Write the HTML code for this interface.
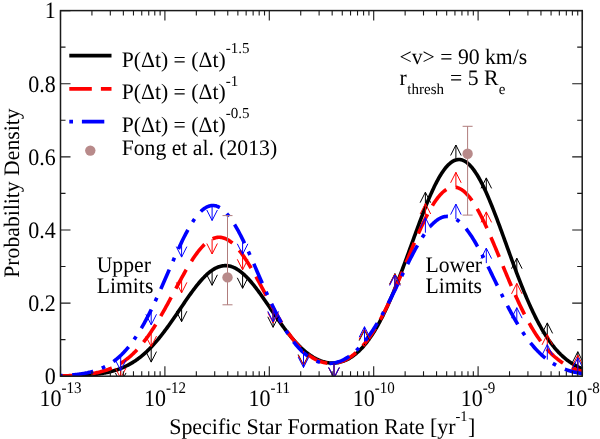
<!DOCTYPE html><html><head><meta charset="utf-8"><style>html,body{margin:0;padding:0;background:#fff;overflow:hidden}svg{display:block;will-change:transform}</style></head><body>
<svg width="600" height="439" viewBox="0 0 600 439" font-family="'Liberation Serif', serif" style="text-rendering:geometricPrecision">
<defs><clipPath id="c"><rect x="60.5" y="10.599999999999966" width="521.7" height="365.6"/></clipPath></defs>
<g clip-path="url(#c)" fill="none" stroke-linejoin="round">
<polyline points="60.50,376.05 61.37,376.04 62.24,376.03 63.11,376.01 63.99,376.00 64.86,375.99 65.73,375.97 66.60,375.96 67.47,375.94 68.34,375.92 69.21,375.90 70.09,375.88 70.96,375.86 71.83,375.84 72.70,375.81 73.57,375.79 74.44,375.76 75.31,375.73 76.19,375.70 77.06,375.67 77.93,375.63 78.80,375.60 79.67,375.56 80.54,375.52 81.41,375.47 82.29,375.43 83.16,375.38 84.03,375.33 84.90,375.28 85.77,375.22 86.64,375.16 87.52,375.10 88.39,375.03 89.26,374.96 90.13,374.89 91.00,374.81 91.87,374.73 92.74,374.65 93.62,374.56 94.49,374.46 95.36,374.37 96.23,374.26 97.10,374.15 97.97,374.04 98.84,373.92 99.72,373.80 100.59,373.67 101.46,373.53 102.33,373.39 103.20,373.24 104.07,373.08 104.94,372.92 105.82,372.75 106.69,372.57 107.56,372.38 108.43,372.19 109.30,371.99 110.17,371.78 111.04,371.56 111.92,371.33 112.79,371.09 113.66,370.84 114.53,370.58 115.40,370.31 116.27,370.04 117.14,369.75 118.02,369.44 118.89,369.13 119.76,368.81 120.63,368.47 121.50,368.12 122.37,367.76 123.24,367.39 124.12,367.00 124.99,366.60 125.86,366.19 126.73,365.76 127.60,365.32 128.47,364.86 129.34,364.39 130.22,363.90 131.09,363.40 131.96,362.88 132.83,362.35 133.70,361.80 134.57,361.23 135.44,360.65 136.32,360.05 137.19,359.44 138.06,358.80 138.93,358.15 139.80,357.48 140.67,356.80 141.55,356.09 142.42,355.37 143.29,354.63 144.16,353.88 145.03,353.10 145.90,352.31 146.77,351.50 147.65,350.67 148.52,349.82 149.39,348.95 150.26,348.07 151.13,347.17 152.00,346.25 152.87,345.31 153.75,344.35 154.62,343.38 155.49,342.39 156.36,341.38 157.23,340.36 158.10,339.32 158.97,338.26 159.85,337.19 160.72,336.10 161.59,335.00 162.46,333.88 163.33,332.75 164.20,331.60 165.07,330.44 165.95,329.27 166.82,328.08 167.69,326.89 168.56,325.68 169.43,324.46 170.30,323.23 171.17,322.00 172.05,320.75 172.92,319.50 173.79,318.24 174.66,316.97 175.53,315.70 176.40,314.42 177.27,313.14 178.15,311.86 179.02,310.57 179.89,309.28 180.76,308.00 181.63,306.71 182.50,305.43 183.37,304.15 184.25,302.87 185.12,301.60 185.99,300.33 186.86,299.07 187.73,297.82 188.60,296.58 189.47,295.34 190.35,294.12 191.22,292.91 192.09,291.72 192.96,290.54 193.83,289.37 194.70,288.22 195.58,287.09 196.45,285.97 197.32,284.88 198.19,283.81 199.06,282.76 199.93,281.73 200.80,280.72 201.68,279.74 202.55,278.79 203.42,277.86 204.29,276.96 205.16,276.09 206.03,275.25 206.90,274.44 207.78,273.66 208.65,272.91 209.52,272.20 210.39,271.52 211.26,270.87 212.13,270.26 213.00,269.68 213.88,269.14 214.75,268.64 215.62,268.18 216.49,267.75 217.36,267.36 218.23,267.01 219.10,266.70 219.98,266.43 220.85,266.20 221.72,266.00 222.59,265.85 223.46,265.74 224.33,265.67 225.20,265.64 226.08,265.65 226.95,265.70 227.82,265.80 228.69,265.93 229.56,266.10 230.43,266.32 231.30,266.57 232.18,266.86 233.05,267.19 233.92,267.57 234.79,267.98 235.66,268.42 236.53,268.91 237.40,269.43 238.28,269.99 239.15,270.59 240.02,271.22 240.89,271.88 241.76,272.58 242.63,273.31 243.51,274.08 244.38,274.87 245.25,275.70 246.12,276.56 246.99,277.44 247.86,278.36 248.73,279.30 249.61,280.26 250.48,281.26 251.35,282.27 252.22,283.31 253.09,284.37 253.96,285.46 254.83,286.56 255.71,287.68 256.58,288.82 257.45,289.98 258.32,291.15 259.19,292.34 260.06,293.54 260.93,294.75 261.81,295.98 262.68,297.21 263.55,298.46 264.42,299.71 265.29,300.97 266.16,302.24 267.03,303.51 267.91,304.78 268.78,306.06 269.65,307.34 270.52,308.62 271.39,309.90 272.26,311.18 273.13,312.46 274.01,313.73 274.88,315.00 275.75,316.27 276.62,317.53 277.49,318.78 278.36,320.03 279.23,321.26 280.11,322.49 280.98,323.71 281.85,324.92 282.72,326.12 283.59,327.31 284.46,328.48 285.33,329.64 286.21,330.79 287.08,331.92 287.95,333.04 288.82,334.14 289.69,335.22 290.56,336.29 291.43,337.35 292.31,338.38 293.18,339.40 294.05,340.40 294.92,341.38 295.79,342.34 296.66,343.28 297.54,344.20 298.41,345.10 299.28,345.99 300.15,346.85 301.02,347.69 301.89,348.51 302.76,349.31 303.64,350.09 304.51,350.84 305.38,351.58 306.25,352.29 307.12,352.98 307.99,353.65 308.86,354.29 309.74,354.92 310.61,355.52 311.48,356.09 312.35,356.65 313.22,357.18 314.09,357.69 314.96,358.18 315.84,358.65 316.71,359.09 317.58,359.51 318.45,359.90 319.32,360.28 320.19,360.63 321.06,360.95 321.94,361.26 322.81,361.54 323.68,361.79 324.55,362.02 325.42,362.23 326.29,362.42 327.16,362.58 328.04,362.72 328.91,362.84 329.78,362.93 330.65,362.99 331.52,363.04 332.39,363.05 333.26,363.05 334.14,363.02 335.01,362.96 335.88,362.88 336.75,362.78 337.62,362.65 338.49,362.49 339.36,362.31 340.24,362.11 341.11,361.87 341.98,361.62 342.85,361.33 343.72,361.02 344.59,360.68 345.46,360.32 346.34,359.93 347.21,359.51 348.08,359.06 348.95,358.58 349.82,358.08 350.69,357.55 351.57,356.99 352.44,356.40 353.31,355.78 354.18,355.13 355.05,354.45 355.92,353.74 356.79,353.00 357.67,352.23 358.54,351.43 359.41,350.60 360.28,349.73 361.15,348.84 362.02,347.91 362.89,346.95 363.77,345.96 364.64,344.93 365.51,343.87 366.38,342.78 367.25,341.65 368.12,340.49 368.99,339.30 369.87,338.07 370.74,336.81 371.61,335.52 372.48,334.19 373.35,332.83 374.22,331.43 375.09,330.00 375.97,328.53 376.84,327.03 377.71,325.50 378.58,323.93 379.45,322.32 380.32,320.69 381.19,319.02 382.07,317.32 382.94,315.58 383.81,313.81 384.68,312.01 385.55,310.18 386.42,308.31 387.29,306.42 388.17,304.49 389.04,302.53 389.91,300.55 390.78,298.53 391.65,296.49 392.52,294.42 393.39,292.32 394.27,290.20 395.14,288.05 396.01,285.88 396.88,283.68 397.75,281.47 398.62,279.23 399.49,276.97 400.37,274.69 401.24,272.39 402.11,270.08 402.98,267.75 403.85,265.40 404.72,263.05 405.60,260.68 406.47,258.30 407.34,255.91 408.21,253.52 409.08,251.12 409.95,248.71 410.82,246.31 411.70,243.90 412.57,241.49 413.44,239.08 414.31,236.68 415.18,234.28 416.05,231.89 416.92,229.51 417.80,227.14 418.67,224.78 419.54,222.44 420.41,220.11 421.28,217.80 422.15,215.52 423.02,213.25 423.90,211.00 424.77,208.79 425.64,206.59 426.51,204.43 427.38,202.30 428.25,200.20 429.12,198.14 430.00,196.11 430.87,194.12 431.74,192.17 432.61,190.26 433.48,188.40 434.35,186.58 435.22,184.81 436.10,183.08 436.97,181.41 437.84,179.79 438.71,178.22 439.58,176.70 440.45,175.24 441.32,173.84 442.20,172.50 443.07,171.22 443.94,170.00 444.81,168.84 445.68,167.74 446.55,166.71 447.42,165.75 448.30,164.85 449.17,164.02 450.04,163.26 450.91,162.57 451.78,161.94 452.65,161.39 453.53,160.91 454.40,160.50 455.27,160.16 456.14,159.90 457.01,159.71 457.88,159.59 458.75,159.54 459.63,159.56 460.50,159.66 461.37,159.84 462.24,160.08 463.11,160.40 463.98,160.78 464.85,161.24 465.73,161.78 466.60,162.38 467.47,163.05 468.34,163.79 469.21,164.60 470.08,165.48 470.95,166.43 471.83,167.44 472.70,168.51 473.57,169.65 474.44,170.86 475.31,172.12 476.18,173.45 477.05,174.83 477.93,176.27 478.80,177.77 479.67,179.33 480.54,180.93 481.41,182.59 482.28,184.30 483.15,186.06 484.03,187.87 484.90,189.72 485.77,191.61 486.64,193.55 487.51,195.53 488.38,197.55 489.25,199.60 490.13,201.69 491.00,203.81 491.87,205.97 492.74,208.15 493.61,210.36 494.48,212.60 495.35,214.86 496.23,217.14 497.10,219.45 497.97,221.77 498.84,224.11 499.71,226.47 500.58,228.83 501.45,231.21 502.33,233.60 503.20,236.00 504.07,238.40 504.94,240.81 505.81,243.22 506.68,245.63 507.56,248.04 508.43,250.45 509.30,252.85 510.17,255.25 511.04,257.64 511.91,260.03 512.78,262.40 513.66,264.77 514.53,267.12 515.40,269.45 516.27,271.78 517.14,274.08 518.01,276.37 518.88,278.64 519.76,280.89 520.63,283.13 521.50,285.33 522.37,287.52 523.24,289.68 524.11,291.82 524.98,293.93 525.86,296.02 526.73,298.08 527.60,300.12 528.47,302.12 529.34,304.10 530.21,306.05 531.08,307.96 531.96,309.85 532.83,311.71 533.70,313.54 534.57,315.33 535.44,317.10 536.31,318.83 537.18,320.53 538.06,322.19 538.93,323.83 539.80,325.43 540.67,327.00 541.54,328.54 542.41,330.05 543.28,331.52 544.16,332.96 545.03,334.37 545.90,335.74 546.77,337.09 547.64,338.40 548.51,339.68 549.38,340.93 550.26,342.15 551.13,343.33 552.00,344.49 552.87,345.61 553.74,346.71 554.61,347.78 555.48,348.81 556.36,349.82 557.23,350.80 558.10,351.75 558.97,352.67 559.84,353.57 560.71,354.44 561.59,355.28 562.46,356.10 563.33,356.89 564.20,357.66 565.07,358.40 565.94,359.12 566.81,359.81 567.69,360.48 568.56,361.13 569.43,361.76 570.30,362.37 571.17,362.95 572.04,363.52 572.91,364.06 573.79,364.58 574.66,365.09 575.53,365.58 576.40,366.05 577.27,366.50 578.14,366.94 579.01,367.35 579.89,367.76 580.76,368.14 581.63,368.52 582.50,368.87" stroke="#000" stroke-width="3.6"/>
<polyline points="60.50,375.91 61.37,375.89 62.24,375.87 63.11,375.85 63.99,375.83 64.86,375.80 65.73,375.77 66.60,375.75 67.47,375.71 68.34,375.68 69.21,375.65 70.09,375.61 70.96,375.57 71.83,375.53 72.70,375.49 73.57,375.44 74.44,375.39 75.31,375.34 76.19,375.29 77.06,375.23 77.93,375.17 78.80,375.10 79.67,375.04 80.54,374.97 81.41,374.89 82.29,374.81 83.16,374.73 84.03,374.64 84.90,374.55 85.77,374.45 86.64,374.35 87.52,374.24 88.39,374.13 89.26,374.01 90.13,373.88 91.00,373.75 91.87,373.61 92.74,373.47 93.62,373.32 94.49,373.16 95.36,372.99 96.23,372.82 97.10,372.63 97.97,372.44 98.84,372.24 99.72,372.04 100.59,371.82 101.46,371.59 102.33,371.35 103.20,371.10 104.07,370.85 104.94,370.58 105.82,370.30 106.69,370.00 107.56,369.70 108.43,369.38 109.30,369.05 110.17,368.71 111.04,368.35 111.92,367.98 112.79,367.60 113.66,367.20 114.53,366.78 115.40,366.35 116.27,365.91 117.14,365.44 118.02,364.97 118.89,364.47 119.76,363.96 120.63,363.43 121.50,362.88 122.37,362.31 123.24,361.73 124.12,361.12 124.99,360.50 125.86,359.86 126.73,359.19 127.60,358.51 128.47,357.80 129.34,357.08 130.22,356.33 131.09,355.56 131.96,354.77 132.83,353.96 133.70,353.13 134.57,352.27 135.44,351.40 136.32,350.49 137.19,349.57 138.06,348.62 138.93,347.65 139.80,346.66 140.67,345.65 141.55,344.61 142.42,343.54 143.29,342.46 144.16,341.35 145.03,340.22 145.90,339.06 146.77,337.89 147.65,336.69 148.52,335.47 149.39,334.22 150.26,332.96 151.13,331.67 152.00,330.36 152.87,329.03 153.75,327.68 154.62,326.31 155.49,324.92 156.36,323.52 157.23,322.09 158.10,320.64 158.97,319.18 159.85,317.70 160.72,316.21 161.59,314.70 162.46,313.18 163.33,311.64 164.20,310.09 165.07,308.52 165.95,306.95 166.82,305.37 167.69,303.77 168.56,302.17 169.43,300.56 170.30,298.95 171.17,297.33 172.05,295.71 172.92,294.08 173.79,292.45 174.66,290.83 175.53,289.20 176.40,287.57 177.27,285.95 178.15,284.34 179.02,282.72 179.89,281.12 180.76,279.53 181.63,277.94 182.50,276.37 183.37,274.80 184.25,273.26 185.12,271.73 185.99,270.21 186.86,268.71 187.73,267.24 188.60,265.78 189.47,264.34 190.35,262.93 191.22,261.55 192.09,260.19 192.96,258.86 193.83,257.56 194.70,256.28 195.58,255.04 196.45,253.83 197.32,252.66 198.19,251.52 199.06,250.42 199.93,249.36 200.80,248.33 201.68,247.35 202.55,246.40 203.42,245.50 204.29,244.64 205.16,243.82 206.03,243.05 206.90,242.32 207.78,241.65 208.65,241.01 209.52,240.43 210.39,239.89 211.26,239.40 212.13,238.97 213.00,238.58 213.88,238.24 214.75,237.95 215.62,237.72 216.49,237.53 217.36,237.40 218.23,237.32 219.10,237.29 219.98,237.31 220.85,237.39 221.72,237.51 222.59,237.69 223.46,237.92 224.33,238.20 225.20,238.53 226.08,238.91 226.95,239.34 227.82,239.82 228.69,240.35 229.56,240.93 230.43,241.56 231.30,242.23 232.18,242.95 233.05,243.72 233.92,244.53 234.79,245.38 235.66,246.28 236.53,247.22 237.40,248.20 238.28,249.22 239.15,250.28 240.02,251.37 240.89,252.51 241.76,253.67 242.63,254.88 243.51,256.11 244.38,257.38 245.25,258.68 246.12,260.00 246.99,261.36 247.86,262.74 248.73,264.15 249.61,265.58 250.48,267.03 251.35,268.50 252.22,270.00 253.09,271.51 253.96,273.04 254.83,274.58 255.71,276.14 256.58,277.71 257.45,279.29 258.32,280.88 259.19,282.48 260.06,284.09 260.93,285.70 261.81,287.32 262.68,288.94 263.55,290.56 264.42,292.18 265.29,293.81 266.16,295.43 267.03,297.05 267.91,298.66 268.78,300.27 269.65,301.87 270.52,303.47 271.39,305.05 272.26,306.63 273.13,308.20 274.01,309.75 274.88,311.29 275.75,312.82 276.62,314.34 277.49,315.84 278.36,317.32 279.23,318.79 280.11,320.24 280.98,321.67 281.85,323.08 282.72,324.48 283.59,325.85 284.46,327.20 285.33,328.53 286.21,329.84 287.08,331.13 287.95,332.40 288.82,333.64 289.69,334.86 290.56,336.05 291.43,337.22 292.31,338.37 293.18,339.49 294.05,340.59 294.92,341.66 295.79,342.70 296.66,343.72 297.54,344.72 298.41,345.69 299.28,346.63 300.15,347.55 301.02,348.44 301.89,349.30 302.76,350.14 303.64,350.95 304.51,351.74 305.38,352.50 306.25,353.23 307.12,353.94 307.99,354.62 308.86,355.28 309.74,355.91 310.61,356.51 311.48,357.08 312.35,357.64 313.22,358.16 314.09,358.66 314.96,359.13 315.84,359.58 316.71,360.00 317.58,360.40 318.45,360.77 319.32,361.12 320.19,361.44 321.06,361.74 321.94,362.01 322.81,362.25 323.68,362.47 324.55,362.67 325.42,362.84 326.29,362.98 327.16,363.11 328.04,363.20 328.91,363.27 329.78,363.32 330.65,363.34 331.52,363.34 332.39,363.31 333.26,363.25 334.14,363.17 335.01,363.07 335.88,362.94 336.75,362.79 337.62,362.61 338.49,362.40 339.36,362.17 340.24,361.91 341.11,361.63 341.98,361.32 342.85,360.99 343.72,360.63 344.59,360.24 345.46,359.83 346.34,359.38 347.21,358.92 348.08,358.42 348.95,357.90 349.82,357.35 350.69,356.77 351.57,356.17 352.44,355.53 353.31,354.87 354.18,354.18 355.05,353.46 355.92,352.72 356.79,351.94 357.67,351.13 358.54,350.30 359.41,349.43 360.28,348.54 361.15,347.62 362.02,346.66 362.89,345.68 363.77,344.66 364.64,343.62 365.51,342.54 366.38,341.44 367.25,340.30 368.12,339.13 368.99,337.93 369.87,336.71 370.74,335.45 371.61,334.16 372.48,332.84 373.35,331.49 374.22,330.11 375.09,328.70 375.97,327.26 376.84,325.79 377.71,324.29 378.58,322.76 379.45,321.20 380.32,319.61 381.19,318.00 382.07,316.35 382.94,314.68 383.81,312.99 384.68,311.26 385.55,309.51 386.42,307.74 387.29,305.94 388.17,304.12 389.04,302.27 389.91,300.40 390.78,298.51 391.65,296.59 392.52,294.66 393.39,292.71 394.27,290.74 395.14,288.75 396.01,286.74 396.88,284.72 397.75,282.69 398.62,280.64 399.49,278.58 400.37,276.51 401.24,274.43 402.11,272.34 402.98,270.24 403.85,268.14 404.72,266.03 405.60,263.92 406.47,261.81 407.34,259.69 408.21,257.58 409.08,255.47 409.95,253.37 410.82,251.27 411.70,249.18 412.57,247.09 413.44,245.02 414.31,242.96 415.18,240.91 416.05,238.88 416.92,236.86 417.80,234.86 418.67,232.89 419.54,230.93 420.41,229.00 421.28,227.09 422.15,225.21 423.02,223.36 423.90,221.54 424.77,219.74 425.64,217.99 426.51,216.26 427.38,214.57 428.25,212.92 429.12,211.31 430.00,209.74 430.87,208.22 431.74,206.73 432.61,205.29 433.48,203.90 434.35,202.55 435.22,201.26 436.10,200.01 436.97,198.82 437.84,197.68 438.71,196.59 439.58,195.55 440.45,194.58 441.32,193.66 442.20,192.79 443.07,191.99 443.94,191.24 444.81,190.56 445.68,189.94 446.55,189.37 447.42,188.87 448.30,188.43 449.17,188.06 450.04,187.75 450.91,187.50 451.78,187.32 452.65,187.20 453.53,187.14 454.40,187.15 455.27,187.22 456.14,187.36 457.01,187.56 457.88,187.82 458.75,188.15 459.63,188.54 460.50,189.00 461.37,189.52 462.24,190.09 463.11,190.73 463.98,191.44 464.85,192.20 465.73,193.02 466.60,193.90 467.47,194.83 468.34,195.82 469.21,196.87 470.08,197.97 470.95,199.13 471.83,200.34 472.70,201.60 473.57,202.91 474.44,204.26 475.31,205.67 476.18,207.12 477.05,208.62 477.93,210.16 478.80,211.74 479.67,213.36 480.54,215.02 481.41,216.72 482.28,218.45 483.15,220.22 484.03,222.02 484.90,223.85 485.77,225.71 486.64,227.60 487.51,229.51 488.38,231.45 489.25,233.42 490.13,235.40 491.00,237.40 491.87,239.42 492.74,241.46 493.61,243.51 494.48,245.58 495.35,247.66 496.23,249.74 497.10,251.84 497.97,253.94 498.84,256.05 499.71,258.16 500.58,260.28 501.45,262.39 502.33,264.50 503.20,266.62 504.07,268.73 504.94,270.83 505.81,272.93 506.68,275.02 507.56,277.10 508.43,279.17 509.30,281.23 510.17,283.28 511.04,285.32 511.91,287.34 512.78,289.35 513.66,291.34 514.53,293.31 515.40,295.26 516.27,297.20 517.14,299.11 518.01,301.00 518.88,302.88 519.76,304.73 520.63,306.55 521.50,308.36 522.37,310.14 523.24,311.89 524.11,313.62 524.98,315.32 525.86,317.00 526.73,318.65 527.60,320.27 528.47,321.87 529.34,323.44 530.21,324.98 531.08,326.49 531.96,327.98 532.83,329.43 533.70,330.86 534.57,332.26 535.44,333.63 536.31,334.97 537.18,336.28 538.06,337.57 538.93,338.82 539.80,340.05 540.67,341.25 541.54,342.42 542.41,343.56 543.28,344.67 544.16,345.76 545.03,346.82 545.90,347.85 546.77,348.86 547.64,349.83 548.51,350.79 549.38,351.71 550.26,352.61 551.13,353.49 552.00,354.34 552.87,355.16 553.74,355.96 554.61,356.74 555.48,357.49 556.36,358.23 557.23,358.93 558.10,359.62 558.97,360.28 559.84,360.93 560.71,361.55 561.59,362.15 562.46,362.73 563.33,363.29 564.20,363.83 565.07,364.36 565.94,364.86 566.81,365.35 567.69,365.82 568.56,366.27 569.43,366.71 570.30,367.13 571.17,367.53 572.04,367.92 572.91,368.30 573.79,368.66 574.66,369.00 575.53,369.33 576.40,369.65 577.27,369.96 578.14,370.26 579.01,370.54 579.89,370.81 580.76,371.07 581.63,371.32 582.50,371.56" stroke="#f00" stroke-width="3.6" stroke-dasharray="21.5 9.88" stroke-dashoffset="0.63"/>
<polyline points="60.50,375.66 61.37,375.63 62.24,375.59 63.11,375.55 63.99,375.50 64.86,375.46 65.73,375.41 66.60,375.36 67.47,375.30 68.34,375.24 69.21,375.18 70.09,375.12 70.96,375.05 71.83,374.98 72.70,374.90 73.57,374.82 74.44,374.73 75.31,374.64 76.19,374.55 77.06,374.45 77.93,374.34 78.80,374.23 79.67,374.11 80.54,373.99 81.41,373.86 82.29,373.72 83.16,373.58 84.03,373.43 84.90,373.27 85.77,373.10 86.64,372.93 87.52,372.75 88.39,372.55 89.26,372.35 90.13,372.14 91.00,371.92 91.87,371.69 92.74,371.45 93.62,371.20 94.49,370.93 95.36,370.66 96.23,370.37 97.10,370.07 97.97,369.75 98.84,369.43 99.72,369.09 100.59,368.73 101.46,368.36 102.33,367.97 103.20,367.57 104.07,367.15 104.94,366.72 105.82,366.27 106.69,365.80 107.56,365.31 108.43,364.81 109.30,364.28 110.17,363.74 111.04,363.17 111.92,362.59 112.79,361.98 113.66,361.36 114.53,360.71 115.40,360.04 116.27,359.35 117.14,358.63 118.02,357.89 118.89,357.13 119.76,356.34 120.63,355.52 121.50,354.69 122.37,353.82 123.24,352.93 124.12,352.02 124.99,351.08 125.86,350.11 126.73,349.11 127.60,348.09 128.47,347.04 129.34,345.96 130.22,344.85 131.09,343.71 131.96,342.55 132.83,341.36 133.70,340.14 134.57,338.89 135.44,337.61 136.32,336.30 137.19,334.97 138.06,333.60 138.93,332.21 139.80,330.79 140.67,329.34 141.55,327.86 142.42,326.35 143.29,324.82 144.16,323.26 145.03,321.67 145.90,320.06 146.77,318.42 147.65,316.76 148.52,315.07 149.39,313.35 150.26,311.61 151.13,309.85 152.00,308.07 152.87,306.27 153.75,304.44 154.62,302.60 155.49,300.73 156.36,298.85 157.23,296.95 158.10,295.04 158.97,293.11 159.85,291.16 160.72,289.21 161.59,287.24 162.46,285.26 163.33,283.27 164.20,281.28 165.07,279.28 165.95,277.27 166.82,275.26 167.69,273.25 168.56,271.24 169.43,269.23 170.30,267.22 171.17,265.22 172.05,263.22 172.92,261.23 173.79,259.25 174.66,257.28 175.53,255.33 176.40,253.38 177.27,251.45 178.15,249.54 179.02,247.65 179.89,245.78 180.76,243.94 181.63,242.11 182.50,240.32 183.37,238.55 184.25,236.81 185.12,235.10 185.99,233.43 186.86,231.79 187.73,230.18 188.60,228.62 189.47,227.09 190.35,225.61 191.22,224.16 192.09,222.77 192.96,221.41 193.83,220.11 194.70,218.85 195.58,217.64 196.45,216.49 197.32,215.38 198.19,214.33 199.06,213.33 199.93,212.39 200.80,211.51 201.68,210.68 202.55,209.91 203.42,209.21 204.29,208.56 205.16,207.97 206.03,207.45 206.90,206.98 207.78,206.58 208.65,206.25 209.52,205.97 210.39,205.76 211.26,205.62 212.13,205.54 213.00,205.52 213.88,205.57 214.75,205.68 215.62,205.86 216.49,206.10 217.36,206.40 218.23,206.77 219.10,207.20 219.98,207.69 220.85,208.25 221.72,208.86 222.59,209.54 223.46,210.28 224.33,211.07 225.20,211.93 226.08,212.84 226.95,213.81 227.82,214.83 228.69,215.91 229.56,217.03 230.43,218.22 231.30,219.45 232.18,220.73 233.05,222.06 233.92,223.43 234.79,224.85 235.66,226.31 236.53,227.82 237.40,229.36 238.28,230.95 239.15,232.57 240.02,234.22 240.89,235.91 241.76,237.64 242.63,239.39 243.51,241.17 244.38,242.98 245.25,244.81 246.12,246.67 246.99,248.55 247.86,250.45 248.73,252.36 249.61,254.30 250.48,256.24 251.35,258.21 252.22,260.18 253.09,262.16 253.96,264.15 254.83,266.15 255.71,268.15 256.58,270.16 257.45,272.17 258.32,274.17 259.19,276.18 260.06,278.18 260.93,280.18 261.81,282.18 262.68,284.16 263.55,286.14 264.42,288.11 265.29,290.06 266.16,292.01 267.03,293.94 267.91,295.85 268.78,297.75 269.65,299.63 270.52,301.50 271.39,303.34 272.26,305.17 273.13,306.97 274.01,308.75 274.88,310.51 275.75,312.25 276.62,313.96 277.49,315.65 278.36,317.31 279.23,318.94 280.11,320.55 280.98,322.13 281.85,323.69 282.72,325.21 283.59,326.71 284.46,328.18 285.33,329.61 286.21,331.02 287.08,332.40 287.95,333.75 288.82,335.07 289.69,336.35 290.56,337.61 291.43,338.83 292.31,340.03 293.18,341.19 294.05,342.32 294.92,343.42 295.79,344.49 296.66,345.53 297.54,346.54 298.41,347.52 299.28,348.46 300.15,349.38 301.02,350.26 301.89,351.12 302.76,351.94 303.64,352.73 304.51,353.50 305.38,354.23 306.25,354.93 307.12,355.61 307.99,356.25 308.86,356.87 309.74,357.46 310.61,358.02 311.48,358.55 312.35,359.05 313.22,359.52 314.09,359.97 314.96,360.39 315.84,360.78 316.71,361.14 317.58,361.48 318.45,361.79 319.32,362.07 320.19,362.33 321.06,362.56 321.94,362.76 322.81,362.94 323.68,363.09 324.55,363.22 325.42,363.32 326.29,363.40 327.16,363.45 328.04,363.47 328.91,363.47 329.78,363.44 330.65,363.39 331.52,363.32 332.39,363.22 333.26,363.09 334.14,362.94 335.01,362.76 335.88,362.56 336.75,362.33 337.62,362.08 338.49,361.80 339.36,361.50 340.24,361.17 341.11,360.82 341.98,360.44 342.85,360.04 343.72,359.61 344.59,359.16 345.46,358.68 346.34,358.17 347.21,357.64 348.08,357.08 348.95,356.50 349.82,355.89 350.69,355.25 351.57,354.59 352.44,353.90 353.31,353.19 354.18,352.45 355.05,351.68 355.92,350.88 356.79,350.06 357.67,349.21 358.54,348.34 359.41,347.44 360.28,346.51 361.15,345.55 362.02,344.57 362.89,343.56 363.77,342.53 364.64,341.46 365.51,340.37 366.38,339.26 367.25,338.11 368.12,336.95 368.99,335.75 369.87,334.53 370.74,333.28 371.61,332.01 372.48,330.71 373.35,329.39 374.22,328.04 375.09,326.67 375.97,325.28 376.84,323.86 377.71,322.42 378.58,320.95 379.45,319.46 380.32,317.95 381.19,316.42 382.07,314.87 382.94,313.30 383.81,311.71 384.68,310.10 385.55,308.48 386.42,306.83 387.29,305.17 388.17,303.49 389.04,301.80 389.91,300.10 390.78,298.38 391.65,296.65 392.52,294.91 393.39,293.16 394.27,291.39 395.14,289.63 396.01,287.85 396.88,286.07 397.75,284.28 398.62,282.49 399.49,280.70 400.37,278.90 401.24,277.11 402.11,275.32 402.98,273.53 403.85,271.74 404.72,269.96 405.60,268.19 406.47,266.42 407.34,264.67 408.21,262.92 409.08,261.19 409.95,259.47 410.82,257.76 411.70,256.07 412.57,254.40 413.44,252.74 414.31,251.11 415.18,249.50 416.05,247.91 416.92,246.35 417.80,244.82 418.67,243.31 419.54,241.83 420.41,240.38 421.28,238.96 422.15,237.57 423.02,236.22 423.90,234.90 424.77,233.62 425.64,232.38 426.51,231.18 427.38,230.01 428.25,228.89 429.12,227.81 430.00,226.77 430.87,225.78 431.74,224.84 432.61,223.94 433.48,223.08 434.35,222.28 435.22,221.52 436.10,220.82 436.97,220.16 437.84,219.55 438.71,219.00 439.58,218.50 440.45,218.05 441.32,217.66 442.20,217.31 443.07,217.03 443.94,216.79 444.81,216.61 445.68,216.49 446.55,216.42 447.42,216.41 448.30,216.45 449.17,216.54 450.04,216.69 450.91,216.90 451.78,217.15 452.65,217.47 453.53,217.83 454.40,218.25 455.27,218.73 456.14,219.25 457.01,219.83 457.88,220.46 458.75,221.14 459.63,221.87 460.50,222.65 461.37,223.47 462.24,224.35 463.11,225.27 463.98,226.24 464.85,227.25 465.73,228.31 466.60,229.41 467.47,230.55 468.34,231.73 469.21,232.95 470.08,234.21 470.95,235.51 471.83,236.84 472.70,238.21 473.57,239.61 474.44,241.05 475.31,242.51 476.18,244.01 477.05,245.53 477.93,247.08 478.80,248.65 479.67,250.25 480.54,251.87 481.41,253.52 482.28,255.18 483.15,256.86 484.03,258.56 484.90,260.27 485.77,262.00 486.64,263.74 487.51,265.49 488.38,267.26 489.25,269.03 490.13,270.81 491.00,272.59 491.87,274.38 492.74,276.17 493.61,277.97 494.48,279.77 495.35,281.56 496.23,283.36 497.10,285.15 497.97,286.93 498.84,288.72 499.71,290.49 500.58,292.26 501.45,294.02 502.33,295.77 503.20,297.52 504.07,299.25 504.94,300.96 505.81,302.67 506.68,304.36 507.56,306.03 508.43,307.70 509.30,309.34 510.17,310.97 511.04,312.58 511.91,314.17 512.78,315.74 513.66,317.29 514.53,318.82 515.40,320.33 516.27,321.82 517.14,323.29 518.01,324.74 518.88,326.16 519.76,327.57 520.63,328.94 521.50,330.30 522.37,331.63 523.24,332.94 524.11,334.22 524.98,335.48 525.86,336.72 526.73,337.93 527.60,339.12 528.47,340.28 529.34,341.42 530.21,342.53 531.08,343.62 531.96,344.68 532.83,345.72 533.70,346.74 534.57,347.73 535.44,348.70 536.31,349.64 537.18,350.57 538.06,351.46 538.93,352.34 539.80,353.19 540.67,354.02 541.54,354.82 542.41,355.60 543.28,356.37 544.16,357.11 545.03,357.83 545.90,358.52 546.77,359.20 547.64,359.86 548.51,360.49 549.38,361.11 550.26,361.71 551.13,362.29 552.00,362.85 552.87,363.39 553.74,363.92 554.61,364.42 555.48,364.91 556.36,365.39 557.23,365.84 558.10,366.28 558.97,366.71 559.84,367.12 560.71,367.52 561.59,367.90 562.46,368.26 563.33,368.62 564.20,368.96 565.07,369.29 565.94,369.60 566.81,369.90 567.69,370.19 568.56,370.47 569.43,370.74 570.30,371.00 571.17,371.25 572.04,371.48 572.91,371.71 573.79,371.93 574.66,372.14 575.53,372.34 576.40,372.53 577.27,372.71 578.14,372.89 579.01,373.05 579.89,373.21 580.76,373.37 581.63,373.51 582.50,373.65" stroke="#00f" stroke-width="3.6" stroke-dasharray="3.7 9.65 21.25 9.2" stroke-dashoffset="1.6"/>
<path d="M120.7,368.4V383.4M115.4,372.9L120.7,383.4L126.0,372.9" stroke="#000" stroke-width="1.0"/>
<path d="M151.2,347.1V362.1M145.9,351.6L151.2,362.1L156.5,351.6" stroke="#000" stroke-width="1.0"/>
<path d="M181.6,306.7V321.7M176.3,311.2L181.6,321.7L186.9,311.2" stroke="#000" stroke-width="1.0"/>
<path d="M212.1,270.3V285.3M206.8,274.8L212.1,285.3L217.4,274.8" stroke="#000" stroke-width="1.0"/>
<path d="M242.6,273.3V288.3M237.3,277.8L242.6,288.3L247.9,277.8" stroke="#000" stroke-width="1.0"/>
<path d="M273.1,312.3V327.3M267.8,316.8L273.1,327.3L278.4,316.8" stroke="#000" stroke-width="1.0"/>
<path d="M303.5,350.0V365.0M298.2,354.5L303.5,365.0L308.8,354.5" stroke="#000" stroke-width="1.0"/>
<path d="M334.0,363.0V378.0M328.7,367.5L334.0,378.0L339.3,367.5" stroke="#000" stroke-width="1.0"/>
<path d="M364.5,345.1V330.1M359.2,340.6L364.5,330.1L369.8,340.6" stroke="#000" stroke-width="1.0"/>
<path d="M394.9,288.6V273.6M389.6,284.1L394.9,273.6L400.2,284.1" stroke="#000" stroke-width="1.0"/>
<path d="M425.4,207.2V192.2M420.1,202.7L425.4,192.2L430.7,202.7" stroke="#000" stroke-width="1.0"/>
<path d="M455.9,160.0V145.0M450.6,155.5L455.9,145.0L461.2,155.5" stroke="#000" stroke-width="1.0"/>
<path d="M486.3,192.9V177.9M481.0,188.4L486.3,177.9L491.6,188.4" stroke="#000" stroke-width="1.0"/>
<path d="M516.8,273.2V258.2M511.5,268.7L516.8,258.2L522.1,268.7" stroke="#000" stroke-width="1.0"/>
<path d="M547.3,337.9V322.9M542.0,333.4L547.3,322.9L552.6,333.4" stroke="#000" stroke-width="1.0"/>
<path d="M577.8,366.7V351.7M572.5,362.2L577.8,351.7L583.0,362.2" stroke="#000" stroke-width="1.0"/>
<path d="M120.7,363.4V378.4M115.4,367.9L120.7,378.4L126.0,367.9" stroke="#f00" stroke-width="1.0"/>
<path d="M151.2,331.6V346.6M145.9,336.1L151.2,346.6L156.5,336.1" stroke="#f00" stroke-width="1.0"/>
<path d="M181.6,277.9V292.9M176.3,282.4L181.6,292.9L186.9,282.4" stroke="#f00" stroke-width="1.0"/>
<path d="M212.1,239.0V254.0M206.8,243.5L212.1,254.0L217.4,243.5" stroke="#f00" stroke-width="1.0"/>
<path d="M242.6,254.8V269.8M237.3,259.3L242.6,269.8L247.9,259.3" stroke="#f00" stroke-width="1.0"/>
<path d="M273.1,308.0V323.0M267.8,312.5L273.1,323.0L278.4,312.5" stroke="#f00" stroke-width="1.0"/>
<path d="M303.5,350.8V365.8M298.2,355.3L303.5,365.8L308.8,355.3" stroke="#f00" stroke-width="1.0"/>
<path d="M334.0,363.2V378.2M328.7,367.7L334.0,378.2L339.3,367.7" stroke="#f00" stroke-width="1.0"/>
<path d="M364.5,343.8V328.8M359.2,339.3L364.5,328.8L369.8,339.3" stroke="#f00" stroke-width="1.0"/>
<path d="M394.9,289.2V274.2M389.6,284.7L394.9,274.2L400.2,284.7" stroke="#f00" stroke-width="1.0"/>
<path d="M425.4,218.5V203.5M420.1,214.0L425.4,203.5L430.7,214.0" stroke="#f00" stroke-width="1.0"/>
<path d="M455.9,187.3V172.3M450.6,182.8L455.9,172.3L461.2,182.8" stroke="#f00" stroke-width="1.0"/>
<path d="M486.3,226.9V211.9M481.0,222.4L486.3,211.9L491.6,222.4" stroke="#f00" stroke-width="1.0"/>
<path d="M516.8,298.4V283.4M511.5,293.9L516.8,283.4L522.1,293.9" stroke="#f00" stroke-width="1.0"/>
<path d="M547.3,349.4V334.4M542.0,344.9L547.3,334.4L552.6,344.9" stroke="#f00" stroke-width="1.0"/>
<path d="M577.8,370.1V355.1M572.5,365.6L577.8,355.1L583.0,365.6" stroke="#f00" stroke-width="1.0"/>
<path d="M120.7,355.5V370.5M115.4,360.0L120.7,370.5L126.0,360.0" stroke="#00f" stroke-width="1.0"/>
<path d="M151.2,309.8V324.8M145.9,314.3L151.2,324.8L156.5,314.3" stroke="#00f" stroke-width="1.0"/>
<path d="M181.6,242.1V257.1M176.3,246.6L181.6,257.1L186.9,246.6" stroke="#00f" stroke-width="1.0"/>
<path d="M212.1,205.5V220.5M206.8,210.0L212.1,220.5L217.4,210.0" stroke="#00f" stroke-width="1.0"/>
<path d="M242.6,239.3V254.3M237.3,243.8L242.6,254.3L247.9,243.8" stroke="#00f" stroke-width="1.0"/>
<path d="M273.1,306.8V321.8M267.8,311.3L273.1,321.8L278.4,311.3" stroke="#00f" stroke-width="1.0"/>
<path d="M303.5,352.6V367.6M298.2,357.1L303.5,367.6L308.8,357.1" stroke="#00f" stroke-width="1.0"/>
<path d="M334.0,363.0V378.0M328.7,367.5L334.0,378.0L339.3,367.5" stroke="#00f" stroke-width="1.0"/>
<path d="M364.5,341.7V326.7M359.2,337.2L364.5,326.7L369.8,337.2" stroke="#00f" stroke-width="1.0"/>
<path d="M394.9,290.0V275.0M389.6,285.5L394.9,275.0L400.2,285.5" stroke="#00f" stroke-width="1.0"/>
<path d="M425.4,232.7V217.7M420.1,228.2L425.4,217.7L430.7,228.2" stroke="#00f" stroke-width="1.0"/>
<path d="M455.9,219.1V204.1M450.6,214.6L455.9,204.1L461.2,214.6" stroke="#00f" stroke-width="1.0"/>
<path d="M486.3,263.1V248.1M481.0,258.6L486.3,248.1L491.6,258.6" stroke="#00f" stroke-width="1.0"/>
<path d="M516.8,322.7V307.7M511.5,318.2L516.8,307.7L522.1,318.2" stroke="#00f" stroke-width="1.0"/>
<path d="M547.3,359.6V344.6M542.0,355.1L547.3,344.6L552.6,355.1" stroke="#00f" stroke-width="1.0"/>
<path d="M577.8,372.8V357.8M572.5,368.3L577.8,357.8L583.0,368.3" stroke="#00f" stroke-width="1.0"/>
</g>
<path d="M227.5,215.6V304.8M222.5,215.6H232.5M222.5,304.8H232.5" stroke="#b07c7c" stroke-width="1.0" fill="none"/>
<circle cx="227.5" cy="277.4" r="5.2" fill="#b88a8a"/>
<path d="M467.6,126.3V215.1M462.6,126.3H472.6M462.6,215.1H472.6" stroke="#b07c7c" stroke-width="1.0" fill="none"/>
<circle cx="467.6" cy="153.8" r="5.2" fill="#b88a8a"/>
<path d="M60.50,376.2v-10M60.50,10.599999999999966v10M91.93,376.2v-5M91.93,10.599999999999966v5M110.31,376.2v-5M110.31,10.599999999999966v5M123.36,376.2v-5M123.36,10.599999999999966v5M133.47,376.2v-5M133.47,10.599999999999966v5M141.74,376.2v-5M141.74,10.599999999999966v5M148.73,376.2v-5M148.73,10.599999999999966v5M154.78,376.2v-5M154.78,10.599999999999966v5M160.12,376.2v-5M160.12,10.599999999999966v5M164.90,376.2v-10M164.90,10.599999999999966v10M196.33,376.2v-5M196.33,10.599999999999966v5M214.71,376.2v-5M214.71,10.599999999999966v5M227.76,376.2v-5M227.76,10.599999999999966v5M237.87,376.2v-5M237.87,10.599999999999966v5M246.14,376.2v-5M246.14,10.599999999999966v5M253.13,376.2v-5M253.13,10.599999999999966v5M259.18,376.2v-5M259.18,10.599999999999966v5M264.52,376.2v-5M264.52,10.599999999999966v5M269.30,376.2v-10M269.30,10.599999999999966v10M300.73,376.2v-5M300.73,10.599999999999966v5M319.11,376.2v-5M319.11,10.599999999999966v5M332.16,376.2v-5M332.16,10.599999999999966v5M342.27,376.2v-5M342.27,10.599999999999966v5M350.54,376.2v-5M350.54,10.599999999999966v5M357.53,376.2v-5M357.53,10.599999999999966v5M363.58,376.2v-5M363.58,10.599999999999966v5M368.92,376.2v-5M368.92,10.599999999999966v5M373.70,376.2v-10M373.70,10.599999999999966v10M405.13,376.2v-5M405.13,10.599999999999966v5M423.51,376.2v-5M423.51,10.599999999999966v5M436.56,376.2v-5M436.56,10.599999999999966v5M446.67,376.2v-5M446.67,10.599999999999966v5M454.94,376.2v-5M454.94,10.599999999999966v5M461.93,376.2v-5M461.93,10.599999999999966v5M467.98,376.2v-5M467.98,10.599999999999966v5M473.32,376.2v-5M473.32,10.599999999999966v5M478.10,376.2v-10M478.10,10.599999999999966v10M509.53,376.2v-5M509.53,10.599999999999966v5M527.91,376.2v-5M527.91,10.599999999999966v5M540.96,376.2v-5M540.96,10.599999999999966v5M551.07,376.2v-5M551.07,10.599999999999966v5M559.34,376.2v-5M559.34,10.599999999999966v5M566.33,376.2v-5M566.33,10.599999999999966v5M572.38,376.2v-5M572.38,10.599999999999966v5M577.72,376.2v-5M577.72,10.599999999999966v5M582.50,376.2v-10M582.50,10.599999999999966v10M60.5,376.20h10M582.2,376.20h-10M60.5,339.64h5M582.2,339.64h-5M60.5,303.08h10M582.2,303.08h-10M60.5,266.52h5M582.2,266.52h-5M60.5,229.96h10M582.2,229.96h-10M60.5,193.40h5M582.2,193.40h-5M60.5,156.84h10M582.2,156.84h-10M60.5,120.28h5M582.2,120.28h-5M60.5,83.72h10M582.2,83.72h-10M60.5,47.16h5M582.2,47.16h-5M60.5,10.60h10M582.2,10.60h-10" stroke="#1a1a1a" stroke-width="1.1" fill="none"/>
<rect x="60.5" y="10.599999999999966" width="521.7" height="365.6" fill="none" stroke="#1a1a1a" stroke-width="1.5"/>
<text transform="translate(55.80,384.00) scale(1,1.075)" font-size="22" text-anchor="end">0</text>
<text transform="translate(55.80,310.88) scale(1,1.075)" font-size="22" text-anchor="end">0.2</text>
<text transform="translate(55.80,237.76) scale(1,1.075)" font-size="22" text-anchor="end">0.4</text>
<text transform="translate(55.80,164.64) scale(1,1.075)" font-size="22" text-anchor="end">0.6</text>
<text transform="translate(55.80,91.52) scale(1,1.075)" font-size="22" text-anchor="end">0.8</text>
<text transform="translate(55.80,18.40) scale(1,1.075)" font-size="22" text-anchor="end">1</text>
<text transform="translate(60.50,406.00) scale(1,1.075)" font-size="22" text-anchor="middle">10<tspan font-size="15" dy="-12.5">-13</tspan></text>
<text transform="translate(164.90,406.00) scale(1,1.075)" font-size="22" text-anchor="middle">10<tspan font-size="15" dy="-12.5">-12</tspan></text>
<text transform="translate(269.30,406.00) scale(1,1.075)" font-size="22" text-anchor="middle">10<tspan font-size="15" dy="-12.5">-11</tspan></text>
<text transform="translate(373.70,406.00) scale(1,1.075)" font-size="22" text-anchor="middle">10<tspan font-size="15" dy="-12.5">-10</tspan></text>
<text transform="translate(478.10,406.00) scale(1,1.075)" font-size="22" text-anchor="middle">10<tspan font-size="15" dy="-12.5">-9</tspan></text>
<text transform="translate(582.50,406.00) scale(1,1.075)" font-size="22" text-anchor="middle">10<tspan font-size="15" dy="-12.5">-8</tspan></text>
<text transform="translate(19.0,277.7) rotate(-90) scale(1,1.02)" font-size="21.7">Probability Density</text>
<text transform="translate(169.20,434.00) scale(1,1.02)" font-size="21.95">Specific Star Formation Rate [yr<tspan font-size="14.5" dx="0" dy="-12.7">-1</tspan><tspan dx="0.3" dy="12.7">]</tspan></text>
<path d="M69.3,55.6H111.5" stroke="#000" stroke-width="3.6"/>
<path d="M69.3,88.9H111.5" stroke="#f00" stroke-width="3.6" stroke-dasharray="22.5 9.1"/>
<path d="M69.3,121.6H111.5" stroke="#00f" stroke-width="3.6" stroke-dasharray="3.7 8.9 22.4 8.9"/>
<circle cx="90.3" cy="150.6" r="5.2" fill="#b88a8a"/>
<text transform="translate(121.70,66.70) scale(1,1.02)" font-size="21.7">P(Δt) = (Δt)<tspan font-size="15" dy="-13">-1.5</tspan></text>
<text transform="translate(121.70,99.10) scale(1,1.02)" font-size="21.7">P(Δt) = (Δt)<tspan font-size="15" dy="-13">-1</tspan></text>
<text transform="translate(121.70,131.60) scale(1,1.02)" font-size="21.7">P(Δt) = (Δt)<tspan font-size="15" dy="-13">-0.5</tspan></text>
<text transform="translate(121.70,155.30) scale(1,1.02)" font-size="21.7">Fong et al. (2013)</text>
<text transform="translate(399.50,63.50) scale(1,1.02)" font-size="21.7">&lt;v&gt; = 90 km/s</text>
<text transform="translate(399.50,85.30) scale(1,1.02)" font-size="21.7">r<tspan font-size="15" dx="0.6" dy="9">thresh</tspan><tspan dx="0.6" dy="-9"> = 5 R</tspan><tspan font-size="15" dx="0.3" dy="9">e</tspan></text>
<text transform="translate(96.70,271.60) scale(1,1.02)" font-size="21.7">Upper</text>
<text transform="translate(96.70,293.30) scale(1,1.02)" font-size="21.7">Limits</text>
<text transform="translate(425.40,271.60) scale(1,1.02)" font-size="21.7">Lower</text>
<text transform="translate(425.40,293.30) scale(1,1.02)" font-size="21.7">Limits</text>
</svg></body></html>
